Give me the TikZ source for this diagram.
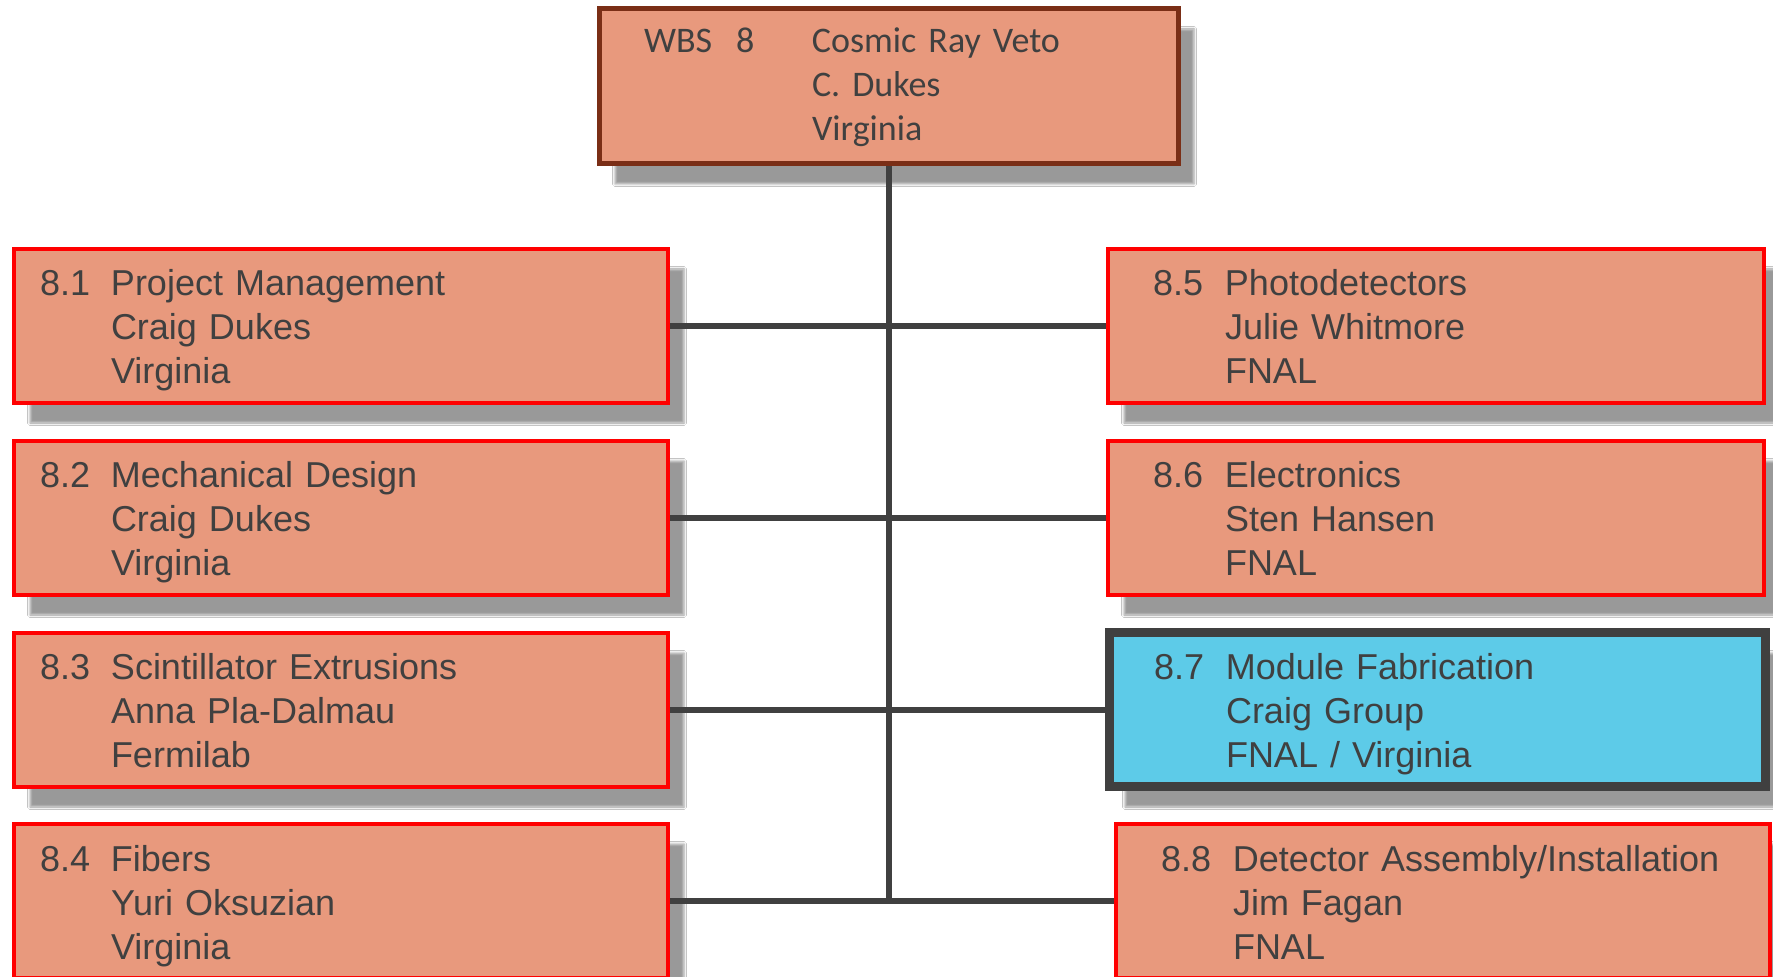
\documentclass[tikz,border=0pt]{standalone}
\usepackage{fontspec}
\setmainfont{Liberation Sans}
\newfontfamily\calibrifont{Carlito}
\usetikzlibrary{shadows.blur}
\definecolor{salmon}{HTML}{E8997D}
\definecolor{skyblue}{HTML}{5DCBE8}
\definecolor{brownline}{HTML}{7A2E16}
\definecolor{txtgray}{HTML}{404040}
\newcommand\wbsentry[7]{\rule{0pt}{#6}\makebox[#1][l]{#2}#3\\\hspace*{#1}#4\\\hspace*{#1}#5\rule[-#7]{0pt}{0pt}}
\tikzset{
  shade box/.style={blur shadow={shadow xshift=8pt, shadow yshift=-10pt, shadow blur radius=1.2pt, shadow opacity=40}},
  basebox/.style={rectangle, fill=salmon, text=txtgray, align=left, inner ysep=0pt, minimum height=77pt, shade box},
  topbox/.style={basebox, draw=brownline, line width=2.5pt, minimum width=289.5pt, text width=244.5pt, inner xsep=22.5pt,
    font=\calibrifont\fontsize{18}{22}\selectfont, minimum height=77.5pt},
  lbox/.style={basebox, draw=red, line width=2pt, minimum width=327pt, text width=301pt, inner xsep=13pt,
    font=\fontsize{18}{22}\selectfont},
  rbox/.style={basebox, draw=red, line width=2pt, minimum width=328pt, text width=283pt, inner xsep=22.5pt,
    font=\fontsize{18}{22}\selectfont},
  hbox/.style={rbox, fill=skyblue, draw=txtgray, line width=4.5pt},
  conn/.style={draw=txtgray, line width=3pt}
}
\begin{document}
\begin{tikzpicture}[x=0.5pt,y=-0.5pt]
\useasboundingbox (0,0) rectangle (1773,977);
\clip (0,0) rectangle (1773,977);
\fill[white] (0,0) rectangle (1773,977);
\node[topbox] (top) at (888.5,86.5) {\wbsentry{84pt}{WBS~~8}{Cosmic Ray Veto}{C. Dukes}{Virginia}{15pt}{4.5pt}};
\node[lbox] (b1) at (341,326) {\wbsentry{35.5pt}{8.1}{Project Management}{Craig Dukes}{Virginia}{18pt}{4pt}};
\node[lbox] (b2) at (341,518) {\wbsentry{35.5pt}{8.2}{Mechanical Design}{Craig Dukes}{Virginia}{18pt}{4pt}};
\node[lbox] (b3) at (341,710) {\wbsentry{35.5pt}{8.3}{Scintillator Extrusions}{Anna Pla-Dalmau}{Fermilab}{18pt}{4pt}};
\node[lbox] (b4) at (341,901) {\wbsentry{35.5pt}{8.4}{Fibers}{Yuri Oksuzian}{Virginia}{18pt}{4pt}};
\node[rbox] (b5) at (1436,326) {\wbsentry{36pt}{8.5}{Photodetectors}{Julie Whitmore}{FNAL}{18pt}{4pt}};
\node[rbox] (b6) at (1436,518) {\wbsentry{36pt}{8.6}{Electronics}{Sten Hansen}{FNAL}{18pt}{4pt}};
\node[hbox] (b7) at (1437,710) {\wbsentry{36pt}{8.7}{Module Fabrication}{Craig Group}{FNAL / Virginia}{18pt}{4pt}};
\node[rbox, minimum width=327pt, text width=282pt] (b8) at (1443,901) {\wbsentry{36pt}{8.8}{Detector Assembly/Installation}{Jim Fagan}{FNAL}{18pt}{4pt}};
\coordinate (jn) at (top.south |- b4.east);
\draw[conn] (top.south) -- (jn);
\draw[conn] (b1.east) -- (b5.west);
\draw[conn] (b2.east) -- (b6.west);
\draw[conn] (b3.east) -- (b7.west);
\draw[conn] (b4.east) -- (b8.west);
\end{tikzpicture}
\end{document}
